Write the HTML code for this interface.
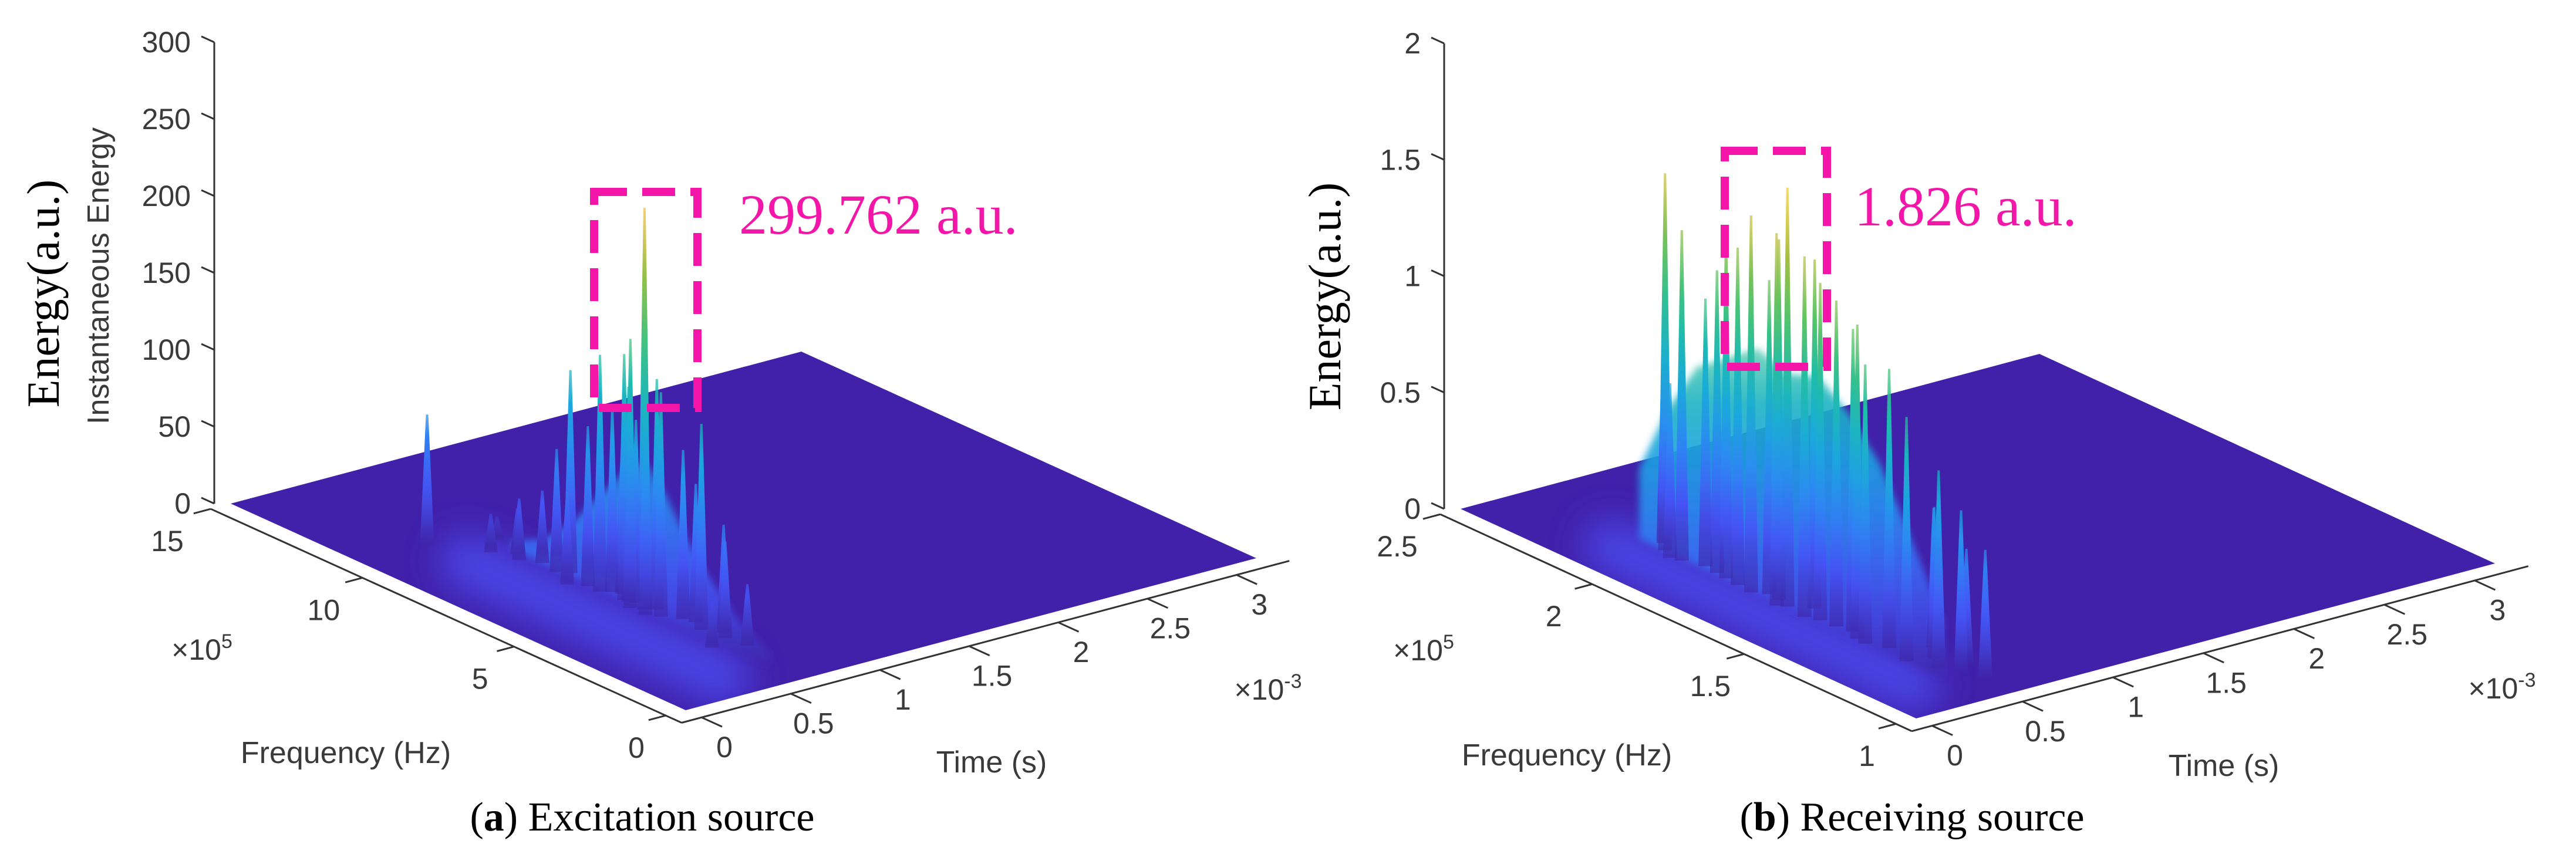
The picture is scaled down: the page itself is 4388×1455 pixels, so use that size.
<!DOCTYPE html>
<html><head><meta charset="utf-8"><style>
html,body{margin:0;padding:0;background:#fff;}
svg{display:block;}
.tk{font-family:"Liberation Sans",sans-serif;font-size:50px;fill:#3a3a3a;}
.al{font-family:"Liberation Sans",sans-serif;font-size:52px;fill:#3a3a3a;}
.sf{font-family:"Liberation Serif",serif;fill:#000;}
</style></head><body>
<svg id="fig" width="4388" height="1455" viewBox="0 0 4388 1455" xmlns="http://www.w3.org/2000/svg">
<defs>
<filter id="blur" x="-50%" y="-50%" width="200%" height="200%"><feGaussianBlur stdDeviation="30"/></filter>
<filter id="sblur" x="-20%" y="-20%" width="140%" height="140%"><feGaussianBlur stdDeviation="6"/></filter>
</defs>
<g id="panelA"></g>
<g id="panelB"></g>
</svg>
<script>
// ---------- Panel A data (time in ms, frequency in 1e5 Hz, energy a.u.) ----------
const aZTicks = [0, 50, 100, 150, 200, 250, 300];
const aFTicks = [0, 5, 10, 15];
const aTTicks = [0, 0.5, 1, 1.5, 2, 2.5, 3];
const aSpikeT = [0.37, 0.66, 0.62, 0.64, 0.64, 0.60, 0.66, 0.64, 0.68, 0.62, 0.64, 0.70, 0.58, 0.66, 0.62, 0.72, 0.56, 0.68, 0.60, 0.70, 0.66, 0.62, 0.74, 0.58, 0.68, 0.64, 0.72, 0.54];
const aSpikeF = [10.7, 7.68, 6.47, 5.79, 5.12, 4.85, 5.52, 4.58, 3.48, 6.87, 8.49, 2.81, 2.54, 10.1, 9.2, 3.9, 7.2, 6.1, 5.35, 4.2, 6.3, 7.9, 3.1, 8.9, 4.95, 5.65, 2.2, 9.6];
const aSpikeE = [85, 132, 154, 160, 261, 154, 119, 146, 134, 104, 47, 63, 29, 15, 30, 90, 60, 95, 175, 110, 120, 80, 70, 40, 150, 140, 40, 25];
const aRidgeT = 0.64;
const aRidgeF = [1.0, 2.0, 3.0, 3.8, 4.4, 5.0, 5.6, 6.2, 6.8, 7.5, 8.5, 9.5];
const aRidgeE = [8, 20, 40, 60, 80, 95, 90, 72, 55, 35, 15, 5];

// ---------- Panel B data ----------
const bZTicks = [0, 0.5, 1, 1.5, 2];
const bFTicks = [1, 1.5, 2, 2.5];
const bTTicks = [0, 0.5, 1, 1.5, 2, 2.5, 3];
const bSpikeT = [0.40, 0.38, 0.42, 0.40, 0.38, 0.42, 0.40, 0.38, 0.42, 0.40, 0.44, 0.40, 0.36, 0.46, 0.50, 0.55, 0.60, 0.48, 0.41, 0.39, 0.43, 0.37, 0.41, 0.44, 0.39, 0.45, 0.52, 0.58];
const bSpikeF = [2.065, 1.998, 1.944, 1.864, 1.770, 1.702, 1.662, 1.594, 1.513, 1.432, 1.351, 1.270, 2.025, 1.20, 1.15, 1.10, 1.30, 1.62, 1.90, 1.82, 1.74, 1.68, 1.56, 1.47, 1.40, 2.10, 1.25, 1.18];
const bSpikeE = [1.62, 1.42, 1.15, 1.48, 1.62, 1.55, 1.80, 1.55, 1.40, 1.35, 1.20, 1.05, 0.75, 0.85, 0.70, 0.55, 0.60, 1.50, 1.30, 1.45, 1.35, 1.60, 1.45, 1.30, 1.20, 0.90, 0.65, 0.50];
const bRidgeT = 0.40;
const bRidgeF = [1.15, 1.26, 1.36, 1.46, 1.56, 1.66, 1.76, 1.86, 1.96, 2.06, 2.15];
const bRidgeE = [0.25, 0.55, 0.80, 0.95, 1.05, 1.00, 1.05, 0.95, 0.85, 0.60, 0.30];

const NS = 'http://www.w3.org/2000/svg';
function mk(tag, attrs, parent) {
  const e = document.createElementNS(NS, tag);
  for (const k in attrs) e.setAttribute(k, attrs[k]);
  if (parent) parent.appendChild(e);
  return e;
}
const PAR = [[0,[62,38,168]],[0.12,[69,82,245]],[0.25,[45,135,243]],[0.37,[26,169,221]],[0.5,[30,189,170]],[0.62,[82,197,105]],[0.75,[166,191,63]],[0.87,[241,186,57]],[1,[249,251,14]]];
function parula(x) {
  x = Math.max(0, Math.min(1, x));
  for (let i = 1; i < PAR.length; i++) {
    if (x <= PAR[i][0]) {
      const a = PAR[i-1], b = PAR[i], f = (x - a[0]) / (b[0] - a[0]);
      const c = a[1].map((v, j) => Math.round(v + (b[1][j] - v) * f));
      return 'rgb(' + c.join(',') + ')';
    }
  }
  return 'rgb(249,251,14)';
}
let gid = 0;
function grad(defs, eTop, emax, lowOpacity) {
  const id = 'g' + (gid++);
  const g = mk('linearGradient', {id: id, x1: 0, y1: 0, x2: 0, y2: 1}, defs);
  for (let k = 0; k <= 6; k++) {
    const s = mk('stop', {offset: (k / 6).toFixed(3), 'stop-color': parula(eTop * (1 - k / 6) / emax)}, g);
    if (k === 0) s.setAttribute('stop-opacity', '0.7');
    if (k === 6 && lowOpacity) s.setAttribute('stop-opacity', lowOpacity);
  }
  return id;
}

function drawPanel(root, cfg, key) {
  const defs = document.querySelector('defs');
  const F = cfg.front, R = cfg.right, L = cfg.left;
  const P = (t, f, z) => {
    const u = t / cfg.tmax, v = (f - cfg.fmin) / (cfg.fmax - cfg.fmin);
    return [F[0] + u * (R[0] - F[0]) + v * (L[0] - F[0]),
            F[1] + u * (R[1] - F[1]) + v * (L[1] - F[1]) - (z || 0) * cfg.zs];
  };
  const back = P(cfg.tmax, cfg.fmax, 0);
  const pts = [P(0, cfg.fmin), P(cfg.tmax, cfg.fmin), back, P(0, cfg.fmax)].map(p => p.join(',')).join(' ');
  const floor = mk('polygon', {points: pts, fill: '#4121aa'}, root);
  
  
  const cp = mk('clipPath', {id: 'clip' + key}, defs);
  mk('polygon', {points: pts}, cp);
  const g1 = P(cfg.ridgeT * 0.6, cfg.ridgeF[0], 0), g2 = P(cfg.ridgeT * 0.6, cfg.ridgeF[cfg.ridgeF.length - 1], 0);
  const gg = mk('g', {'clip-path': 'url(#clip' + key + ')'}, root);
  const gl = mk('line', {x1: g1[0], y1: g1[1], x2: g2[0], y2: g2[1], stroke: '#4d55ff', 'stroke-width': 90, 'stroke-linecap': 'round', opacity: 0.7, filter: 'url(#blur)'}, gg);
  
  

  const top = [], bot = [];
  cfg.ridgeF.forEach((f, i) => { top.push(P(cfg.ridgeT, f, cfg.ridgeE[i])); bot.push(P(cfg.ridgeT, f, 0)); });
  const rmax = Math.max(...cfg.ridgeE);
  const rg = grad(defs, rmax, cfg.zmax);
  const ridge = mk('polygon', {points: top.concat(bot.reverse()).map(p => p.join(',')).join(' '), fill: 'url(#' + rg + ')', filter: 'url(#sblur)', opacity: 0.9}, root);
  
  

  const idx = cfg.sT.map((_, i) => i).sort((a, b) => (cfg.sT[b] / cfg.tmax + (cfg.sF[b] - cfg.fmin) / (cfg.fmax - cfg.fmin)) - (cfg.sT[a] / cfg.tmax + (cfg.sF[a] - cfg.fmin) / (cfg.fmax - cfg.fmin)));
  idx.forEach(i => {
    const b = P(cfg.sT[i], cfg.sF[i], 0), t = P(cfg.sT[i], cfg.sF[i], cfg.sE[i]);
    const w = 12;
    const id = grad(defs, cfg.sE[i], cfg.zmax, '0.6');
    const sp = mk('polygon', {points: [[b[0] - w, b[1]], [t[0] - 2, t[1]], [t[0] + 2, t[1]], [b[0] + w, b[1]]].map(p => p.join(',')).join(' '), fill: 'url(#' + id + ')'}, root);
    
    
  });

  const ax = {stroke: '#333', 'stroke-width': 3, fill: 'none'};
  const z0 = P(0, cfg.fmax, 0);
  const zx = z0[0] - 28;
  const zl = mk('line', Object.assign({x1: zx, y1: z0[1] - cfg.zmax * cfg.zs, x2: zx, y2: z0[1]}, ax), root);
  
  
  cfg.zT.forEach(z => {
    const y = z0[1] - z * cfg.zs;
    const tl = mk('line', Object.assign({x1: zx - 22, y1: y - 10, x2: zx, y2: y}, ax), root);
    
    
    const tx = mk('text', {x: zx - 40, y: y + 17, 'text-anchor': 'end', class: 'tk'}, root);
    tx.textContent = String(z);
    
    
  });
  const tOff = -0.035 * cfg.tmax, fOff = cfg.fmin - 0.035 * (cfg.fmax - cfg.fmin);
  const fa = P(tOff, cfg.fmax, 0), fb = P(tOff, fOff, 0);
  const fl = mk('line', Object.assign({x1: fa[0], y1: fa[1], x2: fb[0], y2: fb[1]}, ax), root);
  
  
  cfg.fT.forEach(f => {
    const p = P(tOff, f, 0), q = P(tOff - 0.03 * cfg.tmax, f, 0);
    const tl = mk('line', Object.assign({x1: p[0], y1: p[1], x2: q[0], y2: q[1]}, ax), root);
    
    
    const v = (f - cfg.fmin) / (cfg.fmax - cfg.fmin);
    const c = P(0, f, 0);
    const tx = mk('text', {x: c[0] - 84 - 24 * v, y: c[1] + 64 + 17, 'text-anchor': 'middle', class: 'tk'}, root);
    tx.textContent = String(f);
    
    
  });
  const ta = P(tOff, fOff, 0), tb = P(cfg.tmax * 1.03, fOff, 0);
  const tl0 = mk('line', Object.assign({x1: ta[0], y1: ta[1], x2: tb[0], y2: tb[1]}, ax), root);
  
  
  cfg.tT.forEach(t => {
    const p = P(t, fOff, 0), q = P(t, fOff - 0.045 * (cfg.fmax - cfg.fmin), 0);
    const tl = mk('line', Object.assign({x1: p[0], y1: p[1], x2: q[0], y2: q[1]}, ax), root);
    
    
    const c = P(t, cfg.fmin, 0);
    const tx = mk('text', {x: c[0] + 66, y: c[1] + 63 + 17, 'text-anchor': 'middle', class: 'tk'}, root);
    tx.textContent = String(t);
    
    
  });
}

const pa = document.getElementById('panelA');
drawPanel(pa, {front: [1168, 1210], right: [2140, 951], left: [393, 858], tmax: 3.2, fmin: 0, fmax: 15, zs: 786 / 300, zmax: 300,
  zT: aZTicks, fT: aFTicks, tT: aTTicks, sT: aSpikeT, sF: aSpikeF, sE: aSpikeE, ridgeT: aRidgeT, ridgeF: aRidgeF, ridgeE: aRidgeE}, 'A');
const pb = document.getElementById('panelB');
drawPanel(pb, {front: [3264, 1224], right: [4250, 960], left: [2488, 867], tmax: 3.2, fmin: 1, fmax: 2.5, zs: 793 / 2, zmax: 2,
  zT: bZTicks, fT: bFTicks, tT: bTTicks, sT: bSpikeT, sF: bSpikeF, sE: bSpikeE, ridgeT: bRidgeT, ridgeF: bRidgeF, ridgeE: bRidgeE}, 'B');
</script>
<script>
(function(){
const svg = document.getElementById('fig');
function t(x, y, txt, cls, extra, name) {
  const e = document.createElementNS('http://www.w3.org/2000/svg', 'text');
  e.setAttribute('x', x); e.setAttribute('y', y);
  e.setAttribute('class', cls);
  for (const k in extra) e.setAttribute(k, extra[k]);
  e.innerHTML = txt;
  
  
  svg.appendChild(e);
  return e;
}
function r(x, y, w, h, name) {
  const e = document.createElementNS('http://www.w3.org/2000/svg', 'rect');
  e.setAttribute('x', x); e.setAttribute('y', y); e.setAttribute('width', w); e.setAttribute('height', h);
  e.setAttribute('fill', 'none'); e.setAttribute('stroke', '#f416a8'); e.setAttribute('stroke-width', 14);
  e.setAttribute('stroke-dasharray', '56 26');
  
  
  svg.appendChild(e);
}
t(100, 500, 'Energy(a.u.)', 'sf', {'font-size': 78, 'text-anchor': 'middle', transform: 'rotate(-90 100 500)'}, 'z-axis-title-energy');
t(185, 470, 'Instantaneous Energy', 'al', {'font-size': 54, 'text-anchor': 'middle', transform: 'rotate(-90 185 470)'}, 'z-axis-title-instantaneous');
t(344, 1124, '×10<tspan dy="-20" font-size="34">5</tspan>', 'tk', {'text-anchor': 'middle'}, 'frequency-exponent');
t(589, 1300, 'Frequency (Hz)', 'al', {'text-anchor': 'middle'}, 'frequency-axis-title');
t(2160, 1192, '×10<tspan dy="-20" font-size="34">-3</tspan>', 'tk', {'text-anchor': 'middle'}, 'time-exponent');
t(1689, 1316, 'Time (s)', 'al', {'text-anchor': 'middle'}, 'time-axis-title');
r(1012, 327, 176, 368, 'peak-highlight-box');
t(1259, 398, '299.762 a.u.', 'sf', {'font-size': 96, fill: '#f416a8', style: 'fill:#f416a8'}, 'peak-value-label');
t(1094, 1415, '(<tspan font-weight="bold">a</tspan>) Excitation source', 'sf', {'font-size': 70, 'text-anchor': 'middle'}, 'caption-a');
t(2283, 505, 'Energy(a.u.)', 'sf', {'font-size': 78, 'text-anchor': 'middle', transform: 'rotate(-90 2283 505)'}, 'z-axis-title-energy-b');
t(2425, 1125, '×10<tspan dy="-20" font-size="34">5</tspan>', 'tk', {'text-anchor': 'middle'}, 'frequency-exponent-b');
t(2669, 1304, 'Frequency (Hz)', 'al', {'text-anchor': 'middle'}, 'frequency-axis-title-b');
t(4262, 1190, '×10<tspan dy="-20" font-size="34">-3</tspan>', 'tk', {'text-anchor': 'middle'}, 'time-exponent-b');
t(3788, 1322, 'Time (s)', 'al', {'text-anchor': 'middle'}, 'time-axis-title-b');
r(2938, 257, 174, 368, 'peak-highlight-box-b');
t(3159, 384, '1.826 a.u.', 'sf', {'font-size': 96, fill: '#f416a8', style: 'fill:#f416a8'}, 'peak-value-label-b');
t(3257, 1415, '(<tspan font-weight="bold">b</tspan>) Receiving source', 'sf', {'font-size': 70, 'text-anchor': 'middle'}, 'caption-b');
})();
</script>
</body></html>
